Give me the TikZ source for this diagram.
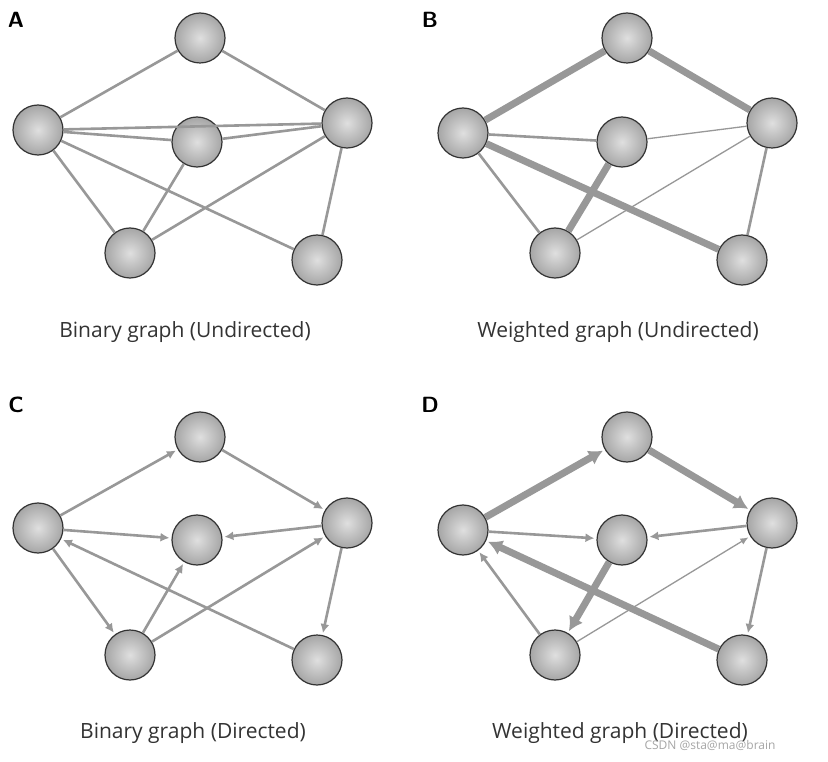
\documentclass[tikz,border=0pt]{standalone}
\usepackage{fontspec}
\setmainfont{Open Sans}
\usetikzlibrary{arrows.meta}
\begin{document}
\begin{tikzpicture}[x=1pt,y=-1pt,
  nd/.style={circle,minimum size=50pt,inner sep=0pt,draw=black!80,line width=1.2pt,inner color=gray!25,outer color=gray!70},
  e/.style={draw=gray!85!black!70,line width=2.6pt},
  ek/.style={draw=gray!85!black!70,line width=7pt},
  et/.style={draw=gray!85!black!70,line width=1.3pt},
  arr/.style={e,-{Latex[length=9pt,width=9pt]},shorten >=2pt},
  arrk/.style={ek,-{Latex[length=14pt,width=16pt]},shorten >=2pt},
  arrt/.style={et,-{Latex[length=8pt,width=7pt]},shorten >=2pt},
  lab/.style={font=\sffamily\bfseries\fontsize{22}{24}\selectfont},
  captxt/.style={font=\fontsize{21}{24}\selectfont,text=black!80}]
\useasboundingbox (0,0) rectangle (828,762);
\fill[white] (0,0) rectangle (828,762);
% A
\node[nd] (at) at (200,38) {}; \node[nd] (al) at (38,130) {}; \node[nd] (am) at (197,142) {};
\node[nd] (ar) at (347,123) {}; \node[nd] (abl) at (130,253) {}; \node[nd] (abr) at (317,260) {};
\path[e] (at)--(al) (at)--(ar) (al)--(am) (al)--(ar) (am)--(ar) (al)--(abl) (al)--(abr) (am)--(abl) (ar)--(abl) (ar)--(abr);
% B
\node[nd] (bt) at (627,38) {}; \node[nd] (bl) at (463,133) {}; \node[nd] (bm) at (622,142) {};
\node[nd] (br) at (772,123) {}; \node[nd] (bbl) at (555,253) {}; \node[nd] (bbr) at (742,260) {};
\path[ek] (bt)--(bl) (bt)--(br) (bl)--(bbr) (bm)--(bbl);
\path[e] (bl)--(bm) (bl)--(bbl) (br)--(bbr);
\path[et] (bm)--(br) (br)--(bbl);
% C
\node[nd] (ct) at (200,437) {}; \node[nd] (cl) at (38,528) {}; \node[nd] (cm) at (197,540) {};
\node[nd] (cr) at (347,523) {}; \node[nd] (cbl) at (130,655) {}; \node[nd] (cbr) at (317,660) {};
\draw[arr] (cl)--(ct); \draw[arr] (ct)--(cr); \draw[arr] (cl)--(cm); \draw[arr] (cr)--(cm);
\draw[arr] (cl)--(cbl); \draw[arr] (cbr)--(cl); \draw[arr] (cbl)--(cm); \draw[arr] (cbl)--(cr); \draw[arr] (cr)--(cbr);
% D
\node[nd] (dt) at (627,437) {}; \node[nd] (dl) at (463,530) {}; \node[nd] (dm) at (622,540) {};
\node[nd] (dr) at (772,523) {}; \node[nd] (dbl) at (555,655) {}; \node[nd] (dbr) at (742,660) {};
\draw[arrk] (dl)--(dt); \draw[arrk] (dt)--(dr); \draw[arr] (dl)--(dm); \draw[arr] (dr)--(dm);
\draw[arrk] (dm)--(dbl); \draw[arr] (dbl)--(dl); \draw[arrk] (dbr)--(dl); \draw[arrt] (dbl)--(dr); \draw[arr] (dr)--(dbr);
% labels
\node[lab] (la) at (16,20) {A}; \node[lab] (lb) at (430,20) {B};
\node[lab] (lc) at (16,405) {C}; \node[lab] (ld) at (430,405) {D};
\node[captxt] (ca) at (185,332) {Binary graph (Undirected)};
\node[captxt] (cb) at (618,332) {Weighted graph (Undirected)};
\node[captxt] (cc) at (193,733) {Binary graph (Directed)};
\node[captxt] (cd) at (620,733) {Weighted graph (Directed)};
\node[font=\fontsize{12}{14}\selectfont,text=gray!70] (wm) at (710,745) {CSDN @sta@ma@brain};
\end{tikzpicture}
\end{document}
